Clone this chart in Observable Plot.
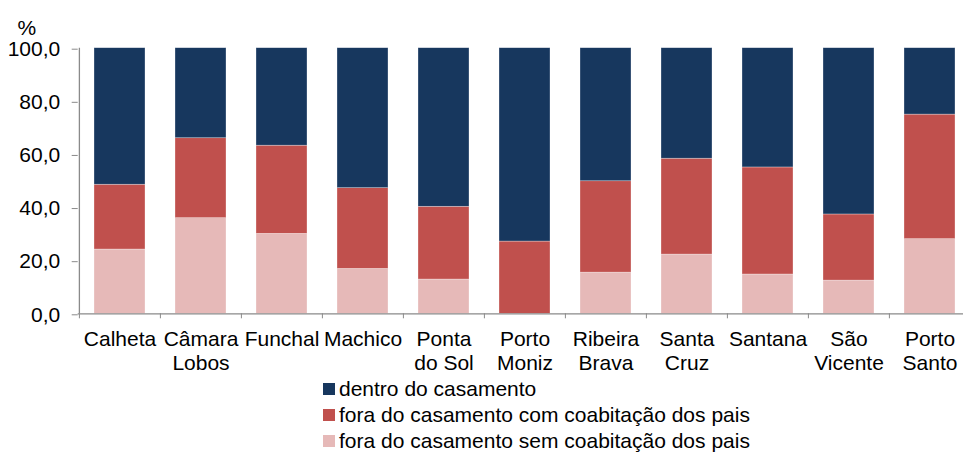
<!DOCTYPE html>
<html>
<head>
<meta charset="utf-8">
<script src="https://cdn.jsdelivr.net/npm/d3@7"></script>
<script src="https://cdn.jsdelivr.net/npm/@observablehq/plot@0.6"></script>
<style>
  body { margin: 0; background: #fff; font-family: "Liberation Sans", Arial, sans-serif; }
  #chart svg { display: block; }
  .legend { padding-left: 323px; font-size: 21px; color: #000; margin-top: -4px; position: relative; }
  .legend .row { height: 26px; display: flex; align-items: center; white-space: nowrap; }
  .legend .sw { width: 12px; height: 12px; margin-right: 4px; flex: none; }
</style>
</head>
<body>
<div id="chart"></div>
<script>
const categories = ["Calheta", "Câmara\nLobos", "Funchal", "Machico", "Ponta\ndo Sol", "Porto\nMoniz", "Ribeira\nBrava", "Santa\nCruz", "Santana", "São\nVicente", "Porto\nSanto"];
const seriesNames = ["fora do casamento sem coabitação dos pais", "fora do casamento com coabitação dos pais", "dentro do casamento"];
const seriesColors = ["#E6B9B8", "#C0504D", "#17375E"];
const semCoabitacao = [24.2, 36.0, 30.1, 16.9, 12.9, 0.0, 15.5, 22.3, 14.8, 12.5, 28.1];
const comCoabitacao = [24.4, 30.1, 33.2, 30.4, 27.4, 27.2, 34.4, 36.1, 40.3, 24.9, 46.9];
const dentroCasamento = [51.4, 33.9, 36.7, 52.7, 59.7, 72.8, 50.1, 41.6, 44.9, 62.6, 25.0];
const yTicks = [0, 20, 40, 60, 80, 100];
const legendOrder = [2, 1, 0];

const seriesValues = [semCoabitacao, comCoabitacao, dentroCasamento];
const data = [];
seriesValues.forEach((vals, s) => vals.forEach((v, i) => data.push({cat: categories[i], series: seriesNames[s], value: v})));

const W = 963, H = 380;
const x0 = 77.7, x1 = 971;
const step = (x1 - x0) / categories.length;
const axisGray = "#8a8a8a";
const fmt = d => d.toFixed(1).replace(".", ",");

const chart = Plot.plot({
  width: W,
  height: H,
  marginLeft: x0,
  marginRight: 0,
  marginTop: 47.7,
  marginBottom: H - 313.3,
  style: {fontFamily: '"Liberation Sans", Arial, sans-serif', fontSize: "21px", color: "#000", background: "#fff"},
  x: {type: "band", domain: categories, range: [x0, x1], paddingInner: 0.376, paddingOuter: 0.188, align: 0.5},
  y: {domain: [0, 100], ticks: yTicks, tickFormat: fmt},
  color: {domain: seriesNames, range: seriesColors},
  marks: [
    Plot.barY(data, {x: "cat", y: "value", fill: "series", order: seriesNames, stroke: "#fff", strokeWidth: 0.6, strokeOpacity: 0.5}),
    Plot.ruleY([0], {stroke: axisGray, strokeWidth: 1.3}),
    Plot.ruleX([categories[0]], {x: d => d, dx: -step / 2, y1: 0, y2: 100, stroke: axisGray, strokeWidth: 1.3}),
    Plot.axisY({ticks: yTicks, tickFormat: fmt, tickSize: 6, tickPadding: 12, stroke: axisGray, fill: "#000", fontSize: 21, dy: 1, label: null}),
    Plot.axisX({tickSize: 5, tickFormat: () => "", dx: -step / 2, stroke: axisGray, label: null}),
    Plot.axisX({tickSize: 0, tickPadding: 15, lineHeight: 1.143, fontSize: 21, fill: "#000", label: null}),
    Plot.text(["%"], {frameAnchor: "top-left", dx: -60.7, dy: -28, textAnchor: "start", fontSize: 21, fill: "#000"})
  ]
});
document.getElementById("chart").appendChild(chart);

const legend = document.createElement("div");
legend.className = "legend";
legendOrder.forEach(s => {
  const row = document.createElement("div");
  row.className = "row";
  const sw = document.createElement("span");
  sw.className = "sw";
  sw.style.background = seriesColors[s];
  const t = document.createElement("span");
  t.textContent = seriesNames[s];
  row.appendChild(sw);
  row.appendChild(t);
  legend.appendChild(row);
});
document.body.appendChild(legend);
</script>
</body>
</html>
